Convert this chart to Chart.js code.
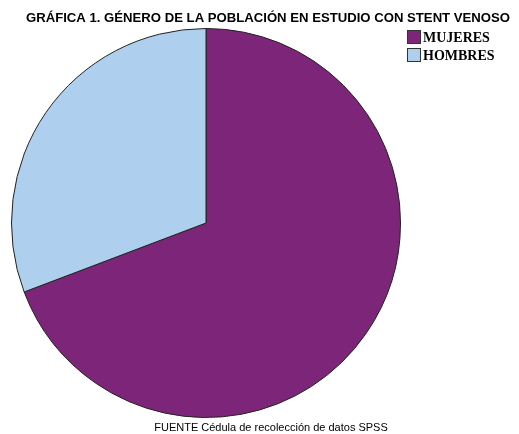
<!DOCTYPE html>
<html>
<head>
<meta charset="utf-8">
<script src="https://cdn.jsdelivr.net/npm/chart.js@4/dist/chart.umd.min.js"></script>
<style>
  html, body { margin: 0; padding: 0; background: #fff; }
  #wrap { position: relative; width: 519px; height: 434px; }
</style>
</head>
<body>
<div id="wrap"><canvas id="pieChart" width="519" height="434"></canvas></div>
<script>
const categories = ['MUJERES', 'HOMBRES'];
const counts = [9, 4];
const colors = ['#7d2679', '#aecfed'];
const titleText = 'GRÁFICA 1. GÉNERO DE LA POBLACIÓN EN ESTUDIO CON STENT VENOSO';
const sourceText = 'FUENTE Cédula de recolección de datos SPSS';

// title, legend at top right and source line, drawn on the canvas
const textPlugin = {
  id: 'texts',
  afterDraw(chart) {
    const ctx = chart.ctx;
    ctx.save();
    ctx.fillStyle = '#000';
    ctx.textBaseline = 'middle';
    ctx.font = 'bold 13.15px "Liberation Sans", Arial, sans-serif';
    ctx.textAlign = 'center';
    ctx.fillText(titleText, 268, 18);

    ctx.font = '11px "Liberation Sans", Arial, sans-serif';
    ctx.fillText(sourceText, 271, 428);

    ctx.textAlign = 'left';
    ctx.font = 'bold 14px "Liberation Serif", "Times New Roman", serif';
    categories.forEach((name, i) => {
      const y = 30 + i * 18;
      ctx.fillStyle = colors[i];
      ctx.fillRect(407, y, 14, 14);
      ctx.strokeStyle = '#333';
      ctx.lineWidth = 1;
      ctx.strokeRect(407.5, y + 0.5, 13, 13);
      ctx.fillStyle = '#000';
      ctx.fillText(name, 423, y + 8);
    });
    ctx.restore();
  }
};

new Chart(document.getElementById('pieChart'), {
  type: 'pie',
  data: {
    labels: categories,
    datasets: [{
      data: counts,
      backgroundColor: colors,
      borderColor: '#222',
      borderWidth: 1,
    }],
  },
  options: {
    responsive: false,
    animation: false,
    layout: { padding: { left: 11, right: 118, top: 28, bottom: 16 } },
    plugins: {
      legend: { display: false },
      title: { display: false },
      tooltip: { enabled: false },
    },
  },
  plugins: [textPlugin],
});
</script>
</body>
</html>
